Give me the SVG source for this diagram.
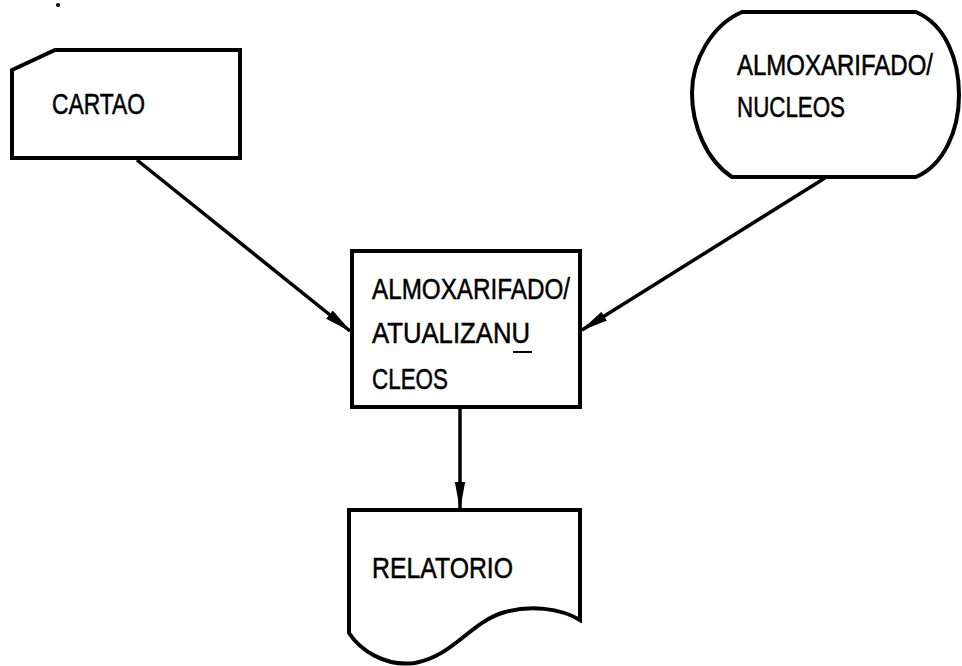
<svg xmlns="http://www.w3.org/2000/svg" width="962" height="666" viewBox="0 0 962 666">
<style>
.shape{fill:#fff;stroke:#000;stroke-width:4;stroke-linejoin:miter}
.lbl{font-family:"Liberation Sans Narrow","Liberation Sans",Arial,sans-serif;font-size:29px;fill:#000;stroke:#000;stroke-width:0.5}
.conn{stroke:#000;stroke-width:3.5;fill:none}
</style>
<defs>
<marker id="arr" markerWidth="8" markerHeight="4" refX="7.5" refY="2" orient="auto" markerUnits="strokeWidth">
<path d="M0,0.5 L8,2 L0,3.5 Z" fill="#000"/>
</marker>
</defs>
<rect width="962" height="666" fill="#fff"/>
<circle cx="58" cy="5" r="2" fill="#000"/>
<g id="cartao">
<path class="shape" d="M12,70 L55,50 L240,50 L240,158 L12,158 Z"/>
<text class="lbl" x="52" y="114" textLength="93" lengthAdjust="spacingAndGlyphs">CARTAO</text>
</g>
<g id="almox-nucleos">
<path class="shape" d="M742,12 L916,12 C946,25 959,60 959,95 C959,130 944,165 916,177 L732,177 C706,160 692,125 692,93 C692,60 712,25 742,12 Z"/>
<text class="lbl" transform="translate(737,75) scale(1,1.2)" x="0" y="0" style="font-size:24px;stroke-width:0.45" textLength="196" lengthAdjust="spacingAndGlyphs">ALMOXARIFADO/</text>
<text class="lbl" x="737" y="117" textLength="108" lengthAdjust="spacingAndGlyphs">NUCLEOS</text>
</g>
<g id="atualiza">
<rect class="shape" x="352" y="251" width="228" height="156"/>
<text class="lbl" x="372" y="299" textLength="198" lengthAdjust="spacingAndGlyphs">ALMOXARIFADO/</text>
<text class="lbl" x="372" y="343" textLength="158" lengthAdjust="spacingAndGlyphs">ATUALIZANU</text>
<line x1="513" y1="352" x2="532" y2="352" stroke="#000" stroke-width="2"/>
<text class="lbl" x="372" y="389" textLength="76" lengthAdjust="spacingAndGlyphs">CLEOS</text>
</g>
<g id="relatorio">
<path class="shape" d="M349,510 L580,510 L580,620 C560,608 530,605 505,612 C470,622 455,655 415,663 C385,667 360,650 349,633 Z"/>
<text class="lbl" x="372" y="578" textLength="141" lengthAdjust="spacingAndGlyphs">RELATORIO</text>
</g>
<g id="connectors">
<line class="conn" x1="137" y1="160" x2="350" y2="331" marker-end="url(#arr)"/>
<line class="conn" x1="825" y1="178" x2="582" y2="330" marker-end="url(#arr)"/>
<line class="conn" x1="460" y1="409" x2="460" y2="508" marker-end="url(#arr)"/>
</g>
</svg>
